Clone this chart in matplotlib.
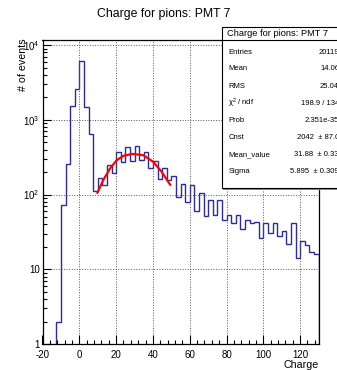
import matplotlib
matplotlib.use("Agg")
import matplotlib.pyplot as plt
from matplotlib.patches import Rectangle
from matplotlib.ticker import FixedLocator, MultipleLocator, FixedFormatter, LogLocator, NullFormatter
import numpy as np

plt.rcParams['font.family'] = ['Liberation Sans', 'DejaVu Sans']
plt.rcParams['mathtext.default'] = 'regular'
plt.rcParams['axes.unicode_minus'] = False

# histogram: 2.5-wide bins from -20 to 130
bin_edges = np.arange(-20, 130.01, 2.5)
counts = [0, 0, 0, 2, 72, 260, 1550, 2620, 6130, 1480,
          640, 113, 166, 135, 250, 197, 372, 271, 434, 282,
          453, 288, 372, 228, 280, 159, 225, 157, 178, 93,
          139, 79, 135, 60, 104, 51, 84, 54, 84, 45,
          54, 41, 54, 35, 46, 41, 43, 26, 42, 31,
          42, 28, 33, 22, 41, 14, 24, 21, 17, 16]

# fit curve
fit_x = [9.8, 13.0, 16.7, 20.3, 23.9, 28.8, 34.8, 40.2, 44.8, 49.5]
fit_y = [105, 156, 223, 288, 329, 350, 336, 274, 201, 134]

stat_names = ["Entries", "Mean", "RMS", r"$\chi^{2}$ / ndf", "Prob",
              "Cnst", "Mean_value", "Sigma"]
stat_values = ["20119", "14.06", "25.04", "198.9 / 134", "2.351e-35",
               "2042  \u00b1 87.0", "31.88  \u00b1 0.33", "5.895  \u00b1 0.309"]

W, H = 337, 370
fig = plt.figure(figsize=(W / 100, H / 100), dpi=100)
ax = fig.add_axes([42.5 / W, 26 / H, 276 / W, 304 / H])

c = np.array(counts, dtype=float)
first = int(np.argmax(c > 0))
ax.stairs(c[first:], bin_edges[first:], baseline=0.5, color='#2b2ba3', lw=1.0)
ax.plot(fit_x, fit_y, color='red', lw=1.6, solid_capstyle='round')

ax.set_yscale('log')
ax.set_xlim(-20, 130)
ax.set_ylim(1, 1.17e4)

ax.xaxis.set_major_locator(MultipleLocator(20))
ax.xaxis.set_minor_locator(MultipleLocator(4))
ax.yaxis.set_major_locator(FixedLocator([1, 10, 100, 1000, 10000]))
ax.yaxis.set_major_formatter(FixedFormatter(['1', '10', '$10^{2}$', '$10^{3}$', '$10^{4}$']))
ax.yaxis.set_minor_locator(LogLocator(base=10, subs=np.arange(2, 10)))
ax.yaxis.set_minor_formatter(NullFormatter())

ax.tick_params(which='both', direction='in', top=False, right=False, labelsize=7, width=0.8)
ax.tick_params(axis='x', which='major', length=6.5, pad=4.5)
ax.tick_params(axis='x', which='minor', length=3.2)
ax.tick_params(axis='y', which='major', length=6, pad=2)
ax.tick_params(axis='y', which='minor', length=3)
ax.grid(True, which='major', ls=':', lw=0.7, color='#555555')
for s in ax.spines.values():
    s.set_linewidth(0.9)

fig.text(163.5 / W, 1 - 14 / H, "Charge for pions: PMT 7", ha='center', va='center', fontsize=8.8)
fig.text(318.5 / W, 1 - 365 / H, "Charge", ha='right', va='center', fontsize=7.7)
fig.text(23 / W, 1 - 38 / H, "# of events", ha='center', va='top', rotation=90, fontsize=7.7)

# stats box, running off the right edge like the original
left, top, bottom, sep = 221.7, 26.7, 188.3, 40
shadow = Rectangle(((left + 1.5) / W, 1 - (bottom + 1.5) / H), (360 - left) / W, (bottom - top) / H,
                   transform=fig.transFigure, facecolor='#888888', edgecolor='none', zorder=5)
box = Rectangle((left / W, 1 - bottom / H), (360 - left) / W, (bottom - top) / H,
                transform=fig.transFigure, facecolor='white', edgecolor='black', lw=0.8, zorder=6)
fig.patches.extend([shadow, box])
fig.lines.append(plt.Line2D([left / W, 1], [1 - sep / H, 1 - sep / H], transform=fig.transFigure,
                            color='black', lw=0.8, zorder=7))
fig.text(227.3 / W, 1 - 33.5 / H, "Charge for pions: PMT 7", ha='left', va='center', fontsize=6.7, zorder=8)
row_y = [52.7, 68.7, 86, 103.3, 120.7, 137.7, 155, 171.7]
for name, val, y in zip(stat_names, stat_values, row_y):
    fig.text(228.3 / W, 1 - y / H, name, ha='left', va='center', fontsize=5.5, zorder=8)
    fig.text(339 / W, 1 - y / H, val, ha='right', va='center', fontsize=5.5, zorder=8)

fig.savefig("out.png", dpi=100)
